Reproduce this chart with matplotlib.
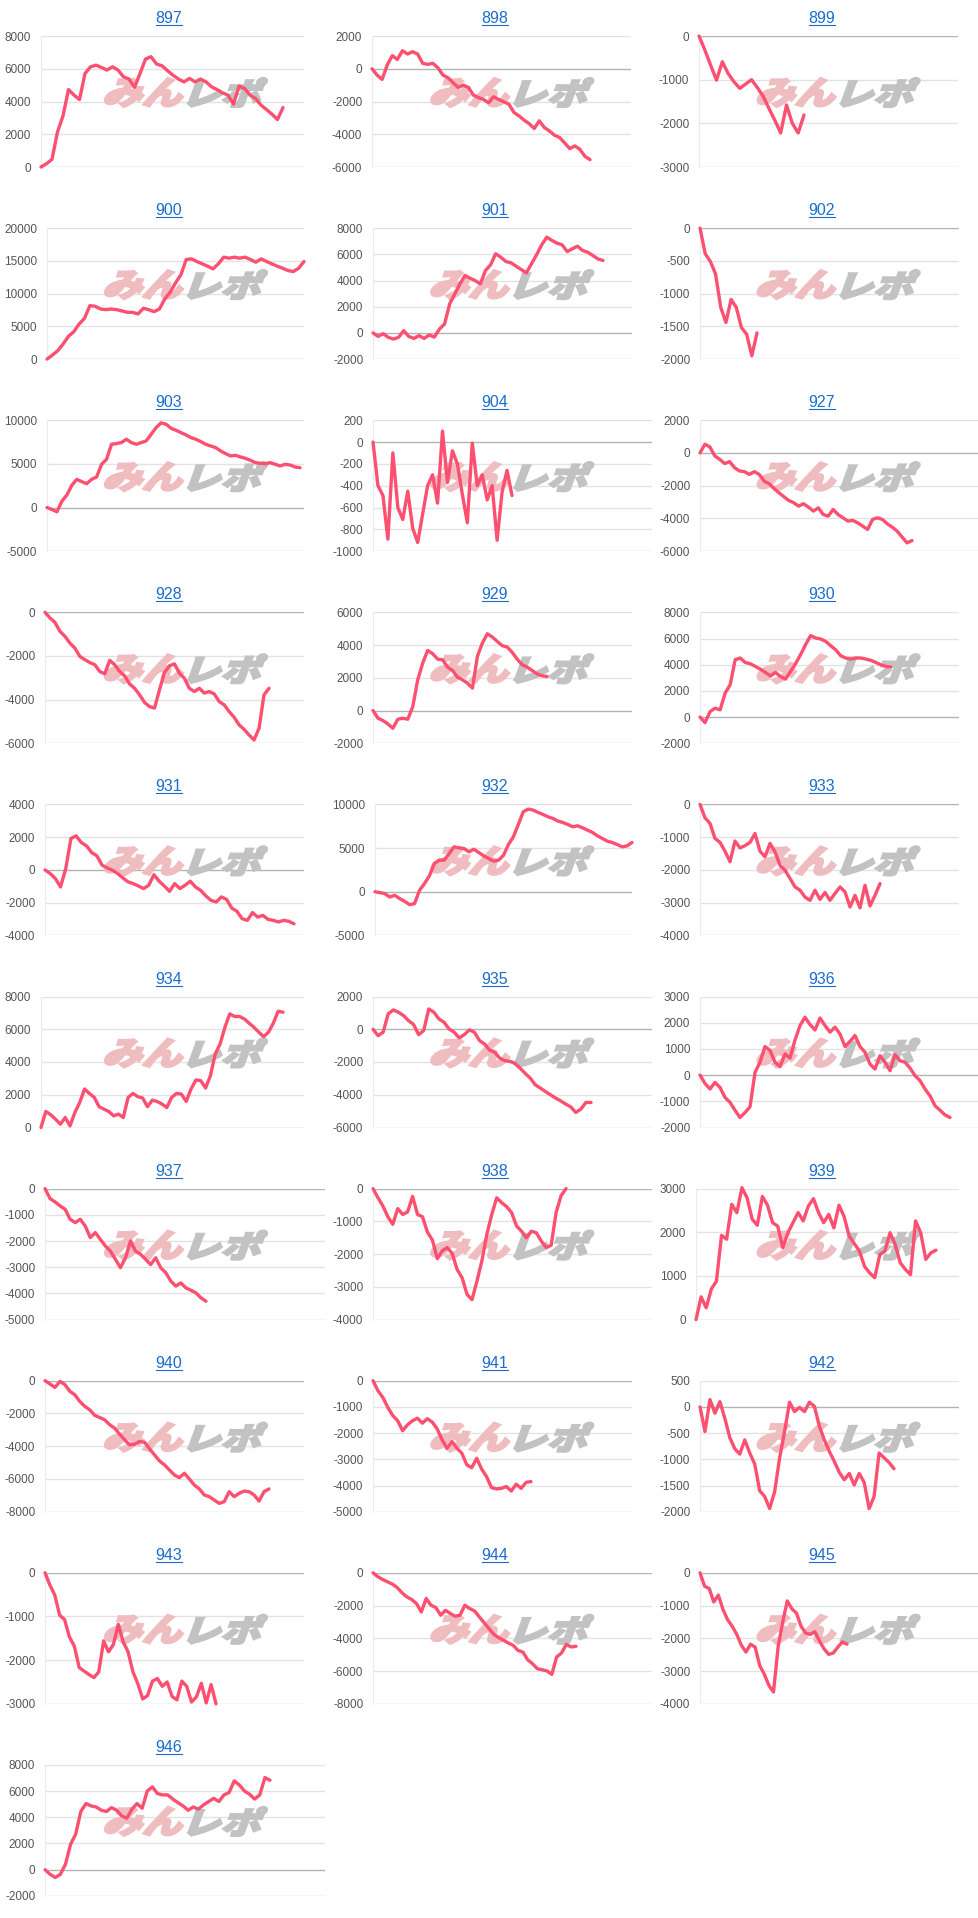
import matplotlib
matplotlib.use('Agg')
import matplotlib.pyplot as plt
from matplotlib.textpath import TextPath
from matplotlib.patches import PathPatch
from matplotlib.font_manager import FontProperties
from matplotlib.transforms import Affine2D, IdentityTransform
from matplotlib.lines import Line2D

W, H, DPI = 979, 1918, 100

# ---------------- data ----------------
titles = ['897', '898', '899', '900', '901', '902', '903', '904', '927',
          '928', '929', '930', '931', '932', '933', '934', '935', '936',
          '937', '938', '939', '940', '941', '942', '943', '944', '945', '946']

s897 = [0, 200, 470, 2140, 3120, 4730, 4390, 4120, 5710, 6120, 6220, 6080, 5920, 6120, 5920, 5510, 5370, 4860,
        5710, 6590, 6740, 6290, 6180, 5880, 5610, 5370, 5200, 5410, 5200, 5370, 5200, 4900, 4730, 4530, 4390,
        3840, 4940, 4800, 4390, 4180, 3780, 3510, 3220, 2900, 3630]
s898 = [0, -390, -650, 230, 800, 570, 1100, 900, 1040, 900, 330, 270, 330, 60, -390, -550, -860, -1140, -1000,
        -1140, -1610, -1760, -1880, -2080, -1710, -1880, -2020, -2160, -2670, -2880, -3140, -3350, -3650, -3180,
        -3590, -3800, -4060, -4200, -4530, -4880, -4710, -4920, -5350, -5550]
s899 = [0, -320, -670, -1010, -590, -860, -1050, -1200, -1100, -1000, -1180, -1380, -1660, -1930, -2220, -1580,
        -2000, -2220, -1810]
s900 = [0, 610, 1280, 2300, 3470, 4180, 5360, 6220, 8160, 8060, 7650, 7550, 7650, 7550, 7350, 7140, 7140, 6890,
        7760, 7550, 7240, 7650, 9180, 10200, 11630, 12860, 15200, 15300, 14900, 14540, 14180, 13780, 14540,
        15560, 15410, 15560, 15410, 15560, 15200, 14800, 15300, 14900, 14540, 14180, 13880, 13520, 13370,
        13880, 14900]
s901 = [0, -270, -60, -340, -470, -340, 170, -270, -420, -210, -420, -160, -320, 290, 680, 2210, 2970, 3740,
        4380, 4170, 3990, 3740, 4760, 5190, 6040, 5780, 5450, 5350, 5090, 4840, 4580, 5270, 5960, 6720, 7310,
        7060, 6850, 6720, 6210, 6420, 6620, 6290, 6160, 5910, 5650, 5530]
s902 = [0, -390, -510, -700, -1210, -1440, -1090, -1210, -1520, -1620, -1950, -1600]
s903 = [0, -220, -490, 730, 1430, 2540, 3230, 2960, 2730, 3230, 3500, 4950, 5520, 7240, 7320, 7440, 7820, 7440,
        7240, 7440, 7630, 8390, 9160, 9690, 9540, 9080, 8850, 8580, 8320, 8010, 7820, 7550, 7240, 7050, 6860,
        6480, 6170, 5910, 5980, 5790, 5640, 5410, 5140, 5060, 5030, 5140, 4950, 4760, 4950, 4870, 4640, 4560]
s904 = [0, -400, -490, -890, -100, -600, -710, -450, -790, -920, -660, -400, -300, -560, 100, -370, -80, -200,
        -480, -740, -10, -400, -300, -530, -400, -900, -460, -260, -490]
s927 = [0, 530, 370, -180, -390, -650, -530, -900, -1100, -1140, -1310, -1140, -1310, -1710, -1880, -2160,
        -2430, -2670, -2900, -3040, -3250, -3100, -3310, -3550, -3350, -3760, -3860, -3450, -3760, -3960, -4160,
        -4120, -4270, -4470, -4670, -4060, -3960, -4060, -4330, -4530, -4780, -5140, -5490, -5350]
s928 = [0, -260, -460, -870, -1100, -1410, -1640, -2020, -2170, -2300, -2400, -2710, -2820, -2200, -2400, -2710,
        -2910, -3280, -3480, -3780, -4130, -4320, -4390, -3550, -2760, -2450, -2360, -2790, -3020, -3480, -3630,
        -3480, -3700, -3630, -3740, -4090, -4240, -4550, -4810, -5160, -5360, -5620, -5850, -5310, -3780, -3480]
s929 = [0, -470, -610, -820, -1080, -530, -470, -530, 240, 1880, 2900, 3670, 3470, 3140, 3100, 2650, 2450, 2040,
        1880, 1670, 1370, 3310, 4120, 4690, 4490, 4220, 3960, 3880, 3550, 3140, 2800, 2650, 2450, 2240, 2120, 2080]
s930 = [0, -420, 420, 680, 550, 1830, 2470, 4380, 4510, 4170, 4070, 3870, 3660, 3410, 3150, 3410, 3100, 2900,
        3480, 4070, 4760, 5530, 6220, 6040, 5960, 5780, 5450, 5140, 4680, 4510, 4430, 4510, 4510, 4430, 4330,
        4170, 3990, 3870, 3820]
s931 = [0, -220, -530, -1040, 80, 1920, 2080, 1670, 1470, 1060, 860, 290, 120, -20, -220, -490, -730, -840, -980,
        -1140, -940, -290, -690, -980, -1310, -840, -1140, -940, -690, -1040, -1250, -1590, -1860, -1960, -1650,
        -1800, -2330, -2530, -2980, -3080, -2610, -2880, -2780, -3020, -3080, -3180, -3080, -3140, -3290]
s932 = [0, -100, -220, -600, -410, -790, -1100, -1480, -1370, 160, 920, 1810, 3230, 3610, 3610, 4370, 5140,
        5020, 4950, 4570, 4870, 4490, 4110, 3800, 3500, 3610, 4180, 5410, 6290, 7700, 9160, 9460, 9350, 9080,
        8850, 8580, 8390, 8090, 7930, 7700, 7440, 7550, 7320, 7050, 6790, 6400, 6100, 5790, 5640, 5410, 5140,
        5250, 5640]
s933 = [0, -410, -580, -1040, -1160, -1430, -1750, -1120, -1330, -1260, -1160, -890, -1430, -1600, -1190, -1450,
        -1860, -2010, -2260, -2520, -2620, -2830, -2930, -2620, -2900, -2690, -2930, -2720, -2520, -2670, -3130,
        -2780, -3160, -2470, -3100, -2780, -2420]
s934 = [0, 980, 780, 510, 200, 610, 100, 920, 1530, 2350, 2080, 1840, 1270, 1120, 980, 710, 820, 610, 1840, 2080,
        1880, 1800, 1270, 1670, 1590, 1430, 1220, 1840, 2080, 2040, 1590, 2350, 2900, 2860, 2410, 3160, 4490,
        5100, 6120, 6940, 6780, 6780, 6630, 6370, 6120, 5820, 5550, 5820, 6370, 7100, 7040]
s935 = [0, -390, -180, 940, 1180, 1040, 840, 530, 290, -330, -80, 1240, 1040, 630, 430, 20, -180, -530, -330,
        -40, -180, -690, -900, -1270, -1410, -1760, -1920, -1960, -2080, -2370, -2690, -2980, -3390, -3590, -3800,
        -4000, -4200, -4370, -4570, -4740, -5080, -4880, -4470, -4470]
s936 = [0, -320, -530, -280, -470, -850, -1040, -1340, -1620, -1430, -1210, 100, 490, 1090, 940, 490, 320, 810,
        650, 1340, 1890, 2210, 1930, 1720, 2180, 1890, 1640, 1830, 1570, 1090, 1290, 1510, 1090, 870, 420, 230,
        740, 490, 170, 780, 550, 490, 270, -20, -210, -530, -790, -1170, -1340, -1520, -1620]
s937 = [0, -380, -510, -660, -790, -1170, -1300, -1170, -1430, -1870, -1680, -1940, -2190, -2390, -2700, -3020,
        -2640, -2000, -2390, -2510, -2700, -2900, -2640, -3020, -3210, -3530, -3720, -3600, -3790, -3880, -3980,
        -4170, -4300]
s938 = [0, -280, -530, -860, -1090, -610, -790, -710, -240, -790, -860, -1330, -1570, -2140, -1900, -1800, -1980,
        -2470, -2720, -3230, -3390, -2830, -2210, -1400, -790, -280, -430, -550, -730, -1140, -1300, -1500, -1300,
        -1350, -1600, -1800, -1730, -730, -220, 0]
s939 = [0, 520, 270, 700, 880, 1930, 1840, 2640, 2450, 3020, 2790, 2300, 2160, 2820, 2620, 2220, 2140, 1650,
        1990, 2220, 2450, 2260, 2600, 2770, 2450, 2220, 2410, 2100, 2620, 2360, 1910, 1740, 1570, 1220, 1070, 960,
        1490, 1570, 1990, 1720, 1300, 1150, 1030, 2260, 1990, 1380, 1530, 1590]
s940 = [0, -200, -410, -40, -240, -650, -860, -1270, -1570, -1780, -2120, -2250, -2390, -2690, -2900, -3270,
        -3610, -3920, -3880, -3710, -3760, -4160, -4530, -4900, -5140, -5450, -5760, -5920, -5650, -6000, -6370,
        -6610, -6980, -7080, -7290, -7490, -7390, -6780, -7080, -6880, -6740, -6780, -6980, -7350, -6780, -6610]
s941 = [0, -380, -640, -1020, -1330, -1530, -1910, -1680, -1530, -1430, -1620, -1450, -1580, -1840, -2260, -2580,
        -2320, -2580, -2770, -3210, -3320, -2960, -3370, -3660, -4080, -4130, -4110, -4040, -4210, -3950, -4110,
        -3880, -3850]
s942 = [0, -470, 140, -120, 100, -220, -590, -800, -900, -630, -880, -1090, -1600, -1710, -1940, -1620, -980,
        -470, 90, -90, -10, -90, 90, 10, -370, -630, -850, -1040, -1250, -1390, -1270, -1490, -1270, -1440, -1940,
        -1710, -880, -970, -1060, -1180]
s943 = [0, -280, -510, -970, -1070, -1470, -1680, -2170, -2250, -2330, -2400, -2270, -1560, -1810, -1640, -1180,
        -1580, -1810, -2270, -2540, -2890, -2810, -2480, -2420, -2600, -2500, -2830, -2910, -2480, -2600, -2960,
        -2840, -2530, -2980, -2560, -3000]
s944 = [0, -240, -410, -550, -690, -900, -1220, -1470, -1630, -1880, -2390, -1570, -1980, -2120, -2590, -2290,
        -2490, -2650, -2590, -1980, -2180, -2330, -2690, -3060, -3410, -3760, -3960, -4120, -4290, -4430, -4740,
        -4840, -5310, -5550, -5860, -5920, -6000, -6200, -5140, -4900, -4370, -4530, -4490]
s945 = [0, -410, -480, -890, -680, -1120, -1430, -1630, -1880, -2210, -2420, -2180, -2270, -2830, -3100, -3440,
        -3640, -2270, -1500, -860, -1100, -1230, -1630, -1840, -1880, -1800, -2080, -2320, -2490, -2450, -2270,
        -2110, -2180]
s946 = [0, -350, -600, -350, 410, 1940, 2710, 4440, 5050, 4870, 4790, 4540, 4440, 4740, 4540, 4110, 3930, 4620,
        5050, 4690, 6010, 6320, 5810, 5710, 5710, 5390, 5120, 4870, 4540, 4790, 4620, 4950, 5200, 5450, 5200,
        5710, 5890, 6780, 6470, 6010, 5760, 5390, 5710, 7030, 6830]

series = [s897, s898, s899, s900, s901, s902, s903, s904, s927, s928, s929, s930, s931, s932, s933,
          s934, s935, s936, s937, s938, s939, s940, s941, s942, s943, s944, s945, s946]

# y-axis tick ranges (min, max, step)
y_ticks = [(0, 8000, 2000), (-6000, 2000, 2000), (-3000, 0, 1000),
           (0, 20000, 5000), (-2000, 8000, 2000), (-2000, 0, 500),
           (-5000, 10000, 5000), (-1000, 200, 200), (-6000, 2000, 2000),
           (-6000, 0, 2000), (-2000, 6000, 2000), (-2000, 8000, 2000),
           (-4000, 4000, 2000), (-5000, 10000, 5000), (-4000, 0, 1000),
           (0, 8000, 2000), (-6000, 2000, 2000), (-2000, 3000, 1000),
           (-5000, 0, 1000), (-4000, 0, 1000), (0, 3000, 1000),
           (-8000, 0, 2000), (-5000, 0, 1000), (-2000, 500, 500),
           (-3000, 0, 1000), (-8000, 0, 2000), (-4000, 0, 1000),
           (-2000, 8000, 2000)]

# ---------------- layout (pixels) ----------------
# plot-area left, right, and x where the data ends
layout = [(41, 304, 283), (372, 631, 590), (699, 958, 804),
          (47, 304, 304), (373, 632, 603), (700, 959, 757),
          (47, 304, 300), (373, 652, 512), (700, 979, 912),
          (45, 304, 269), (373, 632, 547), (700, 959, 891),
          (45, 304, 294), (375, 632, 632), (700, 959, 880),
          (41, 304, 283), (373, 652, 591), (700, 979, 950),
          (45, 325, 206), (373, 652, 566), (696, 959, 936),
          (45, 304, 269), (373, 632, 531), (700, 959, 894),
          (45, 304, 216), (373, 652, 576), (700, 979, 847),
          (45, 325, 270)]
ROW_PITCH = 192.1
COL_X = [0, 326.3, 652.6]
TITLE_CX = [169, 495, 822]

LINE = '#fd4f70'
BLUE = '#1a6dcc'
TICK_COL = '#555555'
FONT = 'Liberation Sans'

fig = plt.figure(figsize=(W / DPI, H / DPI), dpi=DPI)
fig.patch.set_facecolor('white')

fp_wm = FontProperties(family='Noto Sans CJK JP', weight='heavy')


def wm_patch(text, box, color):
    tp = TextPath((0, 0), text, size=40, prop=fp_wm)
    p = Affine2D().skew_deg(16, 0).transform_path(tp)
    ext = p.get_extents()
    x0, y0, x1, y1 = box
    sx = (x1 - x0) / ext.width
    sy = (y1 - y0) / ext.height
    tr = Affine2D().translate(-ext.x0, -ext.y0).scale(sx, sy).translate(x0, H - y1)
    return PathPatch(tr.transform_path(p), transform=IdentityTransform(),
                     facecolor=color, edgecolor=color, linewidth=1.6,
                     joinstyle='miter', zorder=2, clip_on=False)


title_texts = []
for i, (name, ys) in enumerate(zip(titles, series)):
    r, c = divmod(i, 3)
    left, right, end = layout[i]
    top = 36 + ROW_PITCH * r
    bot = 167 + ROW_PITCH * r
    ax = fig.add_axes([left / W, 1 - bot / H, (right - left) / W, (bot - top) / H])
    ax.set_facecolor('none')
    lo, hi, st = y_ticks[i]
    ticks = list(range(lo, hi + 1, st))
    n = len(ys)
    xmax = (n - 1) * (right - left) / (end - left)
    ax.set_xlim(0, xmax)
    ax.set_ylim(lo, hi)
    for t in ticks:
        if t == 0:
            colr = '#b3b3b3'
        elif t == lo:
            colr = '#cccccc'
        else:
            colr = '#e3e3e3'
        ax.axhline(t, color=colr, lw=1.0, zorder=1)
    ax.plot(range(n), ys, color=LINE, lw=2.4, solid_joinstyle='round',
            solid_capstyle='round', zorder=3, clip_on=False)
    ax.set_yticks(ticks, labels=[str(t) for t in ticks])
    ax.set_xticks([])
    ax.tick_params(axis='y', length=0, pad=7, labelsize=8.5, labelcolor=TICK_COL)
    for lab in ax.get_yticklabels():
        lab.set_fontfamily(FONT)
    for s in ['top', 'right', 'bottom']:
        ax.spines[s].set_visible(False)
    ax.spines['left'].set_color('#ebebeb')
    ax.spines['left'].set_linewidth(0.8)

    # watermark
    ox = COL_X[c]
    oy = ROW_PITCH * r
    ax.add_artist(wm_patch('みん', (ox + 105, oy + 78, ox + 183, oy + 107), '#efbcc0'))
    ax.add_artist(wm_patch('レポ', (ox + 188, oy + 78, ox + 267, oy + 107), '#c2c2c2'))

    # title
    ty = 23 + ROW_PITCH * r
    t = fig.text(TITLE_CX[c] / W, 1 - ty / H, name, ha='center', va='baseline',
                 color=BLUE, fontsize=11.5, family=FONT)
    title_texts.append((t, ty))

fig.canvas.draw()
rend = fig.canvas.get_renderer()
for t, ty in title_texts:
    bb = t.get_window_extent(rend)
    uy = H - (ty + 2)
    fig.add_artist(Line2D([bb.x0, bb.x1], [uy, uy], transform=IdentityTransform(),
                          color=BLUE, lw=0.8))

fig.savefig('out.png', dpi=DPI, facecolor='white')
